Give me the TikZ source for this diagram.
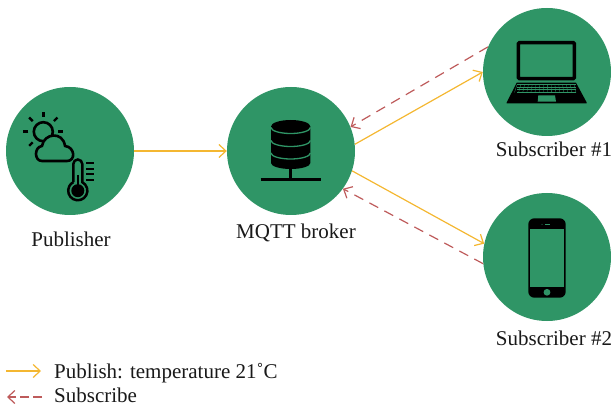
\documentclass[tikz,border=0pt]{standalone}
\usepackage{fontspec}
\setmainfont{Liberation Serif}
\usepackage{xcolor}
\usetikzlibrary{arrows.meta}
\definecolor{dotgreen}{HTML}{2F9566}
\definecolor{pubyellow}{HTML}{F4B731}
\definecolor{subred}{HTML}{BE5B5B}
\tikzset{
  device/.style = {circle, fill=dotgreen, minimum size=128pt, inner sep=0pt},
  caption/.style = {font=\fontsize{21}{25}\selectfont, inner sep=0pt, text=black!90},
  publish/.style = {pubyellow, line width=1.2pt, -{Straight Barb[length=7pt,width=13pt]}},
  subscribe/.style = {subred, line width=1.2pt, dash pattern=on 10pt off 7pt, -{Straight Barb[length=7pt,width=13pt]}}
}

\begin{document}
\begin{tikzpicture}[x=1pt,y=-1pt]
  \useasboundingbox (0,0) rectangle (611,409);

  \node[device] (pub) at (70,151) {};
  \node[device] (broker) at (291,151) {};
  \node[device] (sub1) at (547,72) {};
  \node[device] (sub2) at (547,257) {};

  \node[caption] (publabel) at (71,239) {Publisher};
  \node[caption] (brokerlabel) at (296,233) {MQTT broker};
  \node[caption] (sub1label) at (554,149) {Subscriber \#1};
  \node[caption] (sub2label) at (554,338) {Subscriber \#2};

  % arrows
  \draw[publish] (pub.east) -- (broker.west);
  \draw[publish] (broker.6) -- (sub1.west);
  \draw[subscribe] (sub1.157) -- (broker.22);
  \draw[publish] (broker.-18) -- (sub2.168);
  \draw[subscribe] (sub2.186) -- (broker.-36);

  % sun
  \draw[line width=2.6pt] (43.3,131.7) circle (9.5);
  \foreach \a in {0,135,180,225,270,315}
    \draw[line width=2.4pt] (43.3,131.7) ++(\a:15) -- ++(\a:5);
  % cloud
  \draw[line width=2.6pt, fill=dotgreen, line join=round] (42,161)
    .. controls (34,161) and (34,147) .. (42,146)
    .. controls (44,133) and (63,131) .. (65,146)
    .. controls (75,147) and (76,161) .. (67,161) -- cycle;
  % thermometer
  \draw[line width=2.5pt] (73.3,182.2) -- (73.3,164) arc (180:360:4.5) -- (82.3,182.2)
    arc (-62:242:9.6);
  \fill (77.8,190.7) circle (6.5);
  \draw[line width=1.6pt] (77.8,175) -- (77.8,186);
  \foreach \y in {163.5,169,174.5,180}
    \draw[line width=2pt] (86,\y) -- (94,\y);

  % database
  \fill (271,126.5) arc (180:360:19.7 and 6.5) -- (310.4,163) arc (0:180:19.7 and 6) -- cycle;
  \foreach \y in {127.5,140.5,153}
    \draw[dotgreen, line width=1.3pt] (271,\y) arc (180:0:19.7 and 6);
  \draw[line width=3pt] (290.7,168) -- (290.7,179.3);
  \draw[line width=3pt] (260.7,179.3) -- (320.7,179.3);

  % laptop
  \draw[line width=3.4pt, rounded corners=1pt] (518.4,42.7) rectangle (574.3,78.6);
  \fill[line join=round] (516.7,82.7) -- (576,82.7) -- (586.7,102.5) -- (586.7,103.3) -- (506.7,103.3) -- (506.7,102.5) -- cycle;
  \foreach \y in {84.5,87,89.5,92}
    \draw[dotgreen, line width=.4pt] (517,\y) -- (576,\y);
  \foreach \x in {0,...,15}
    \draw[dotgreen, line width=.3pt] (517+3.8*\x,84.5) -- (514.5+4.1*\x,92.5);
  \fill[dotgreen] (538.3,95.3) -- (555,95.3) -- (556,101.7) -- (537.7,101.7) -- cycle;

  % phone
  \fill[rounded corners=6pt] (528.3,218.3) rectangle (565.7,297.7);
  \fill[dotgreen] (530.3,229.3) rectangle (563.7,286.7);
  \draw[dotgreen, line width=.9pt] (545,224.3) -- (550,224.3);
  \fill[dotgreen] (542,224.3) circle (.5);
  \fill[dotgreen] (547,292.3) circle (3.4);

  % legend
  \coordinate (pubstart) at (6,371);
  \coordinate (pubend) at (41,371);
  \coordinate (substart) at (42,397);
  \coordinate (subend) at (7,397);
  \draw[publish] (pubstart) -- (pubend);
  \draw[subscribe, dash pattern=on 9pt off 4pt] (substart) -- (subend);
  \node[caption, anchor=base west] (publegend) at (54,378) {Publish: temperature 21˚C};
  \node[caption, anchor=base west] (sublegend) at (54,402) {Subscribe};
\end{tikzpicture}
\end{document}
